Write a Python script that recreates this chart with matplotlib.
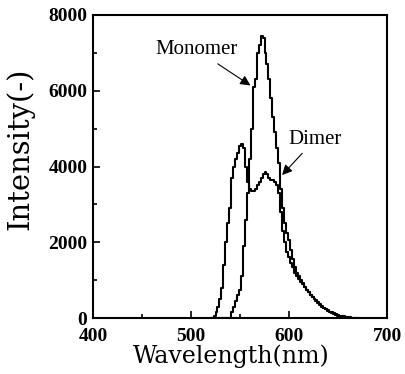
import numpy as np
import matplotlib
matplotlib.use('Agg')
import matplotlib.pyplot as plt
from matplotlib.ticker import MultipleLocator

# wavelength grid of the spectra (nm)
wavelength = np.arange(520, 672, 2)

# monomer spectrum (tall peak)
monomer = [0, 0, 0, 0, 0, 0, 0, 0, 0, 0,
           0, 150, 300, 450, 600, 750, 1100, 1900, 2600, 3300,
           4200, 5000, 6100, 6300, 7000, 7200, 7450, 7400, 7000, 6700,
           6300, 5800, 5300, 4900, 4500, 4100, 3400, 2900, 2500, 2250,
           2050, 1800, 1550, 1350, 1200, 1100, 1000, 920, 830, 750,
           680, 620, 560, 500, 450, 400, 350, 300, 260, 230,
           200, 170, 150, 120, 100, 80, 60, 50, 40, 30,
           20, 20, 10, 10, 0, 0]

# dimer spectrum (shoulder + broad band)
dimer = [0, 0, 50, 150, 300, 500, 800, 1400, 2000, 2500,
         2900, 3700, 4000, 4200, 4350, 4550, 4600, 4500, 4000, 3600,
         3400, 3350, 3350, 3400, 3500, 3600, 3700, 3800, 3850, 3800,
         3700, 3650, 3650, 3600, 3500, 3300, 2800, 2300, 2000, 1750,
         1600, 1450, 1350, 1200, 1100, 1020, 960, 900, 820, 750,
         680, 620, 560, 510, 470, 420, 370, 320, 270, 230,
         190, 160, 130, 100, 70, 40, 20, 10, 0, 0,
         0, 0, 0, 0, 0, 0]

plt.rcParams['font.family'] = 'Liberation Serif'

fig = plt.figure(figsize=(4.05, 3.74), dpi=100)
ax = fig.add_axes([0.2296, 0.1497, 0.726, 0.8102])

ax.plot(wavelength, monomer, color='black', lw=1.5, drawstyle='steps-mid')
ax.plot(wavelength, dimer, color='black', lw=1.5, drawstyle='steps-mid')

ax.set_xlim(400, 700)
ax.set_ylim(0, 8000)
ax.xaxis.set_major_locator(MultipleLocator(100))
ax.xaxis.set_minor_locator(MultipleLocator(50))
ax.yaxis.set_major_locator(MultipleLocator(2000))
ax.yaxis.set_minor_locator(MultipleLocator(1000))
ax.tick_params(which='both', direction='in', labelsize=14, width=1.2)
ax.tick_params(which='major', length=5)
ax.tick_params(which='minor', length=3)
ax.tick_params(axis='x', pad=7)
ax.tick_params(axis='y', pad=4)
for lab in ax.get_xticklabels() + ax.get_yticklabels():
    lab.set_fontweight('bold')
for sp in ax.spines.values():
    sp.set_linewidth(1.5)

ax.set_xlabel('Wavelength(nm)', fontsize=17, family='DejaVu Serif')
ax.set_ylabel('Intensity(-)', fontsize=21, family='DejaVu Serif')
ax.xaxis.set_label_coords(0.469, -0.088)
ax.yaxis.set_label_coords(-0.2, 0.56)

# annotations
arrow = dict(arrowstyle='-|>', color='black', lw=0.8, mutation_scale=15)
ax.annotate('Monomer', xy=(563, 6100), xytext=(506, 7076), fontsize=15,
            ha='center', va='center', arrowprops=arrow)
ax.annotate('Dimer', xy=(591, 3720), xytext=(627, 4726), fontsize=15,
            ha='center', va='center', arrowprops=arrow)

fig.savefig('out.png', dpi=100)
